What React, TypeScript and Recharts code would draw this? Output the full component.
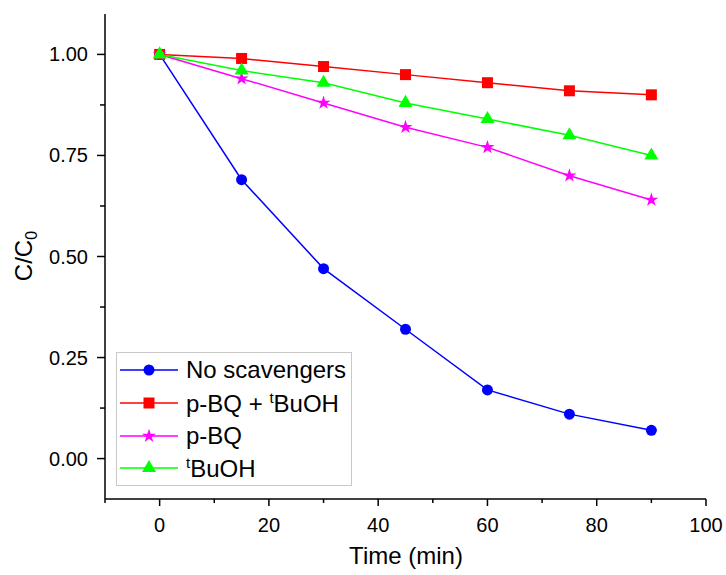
import { LineChart, Line, XAxis, YAxis, Legend, Label, Symbols } from "recharts";

const times = [0, 15, 30, 45, 60, 75, 90];
const noScavengers = [1.0, 0.69, 0.47, 0.32, 0.17, 0.11, 0.07];
const pbqTbuoh = [1.0, 0.99, 0.97, 0.95, 0.93, 0.91, 0.9];
const pbq = [1.0, 0.94, 0.88, 0.82, 0.77, 0.7, 0.64];
const tbuoh = [1.0, 0.96, 0.93, 0.88, 0.84, 0.8, 0.75];

const xTicks = [-10, 0, 10, 20, 30, 40, 50, 60, 70, 80, 90, 100];
const yTicks = [0, 0.125, 0.25, 0.375, 0.5, 0.625, 0.75, 0.875, 1.0];

const font = '"Liberation Sans", Arial, sans-serif';

const data = times.map((t, i) => ({
  time: t,
  none: noScavengers[i],
  both: pbqTbuoh[i],
  pbq: pbq[i],
  tbuoh: tbuoh[i],
}));

const series = [
  { key: "none", color: "#0000ff", shape: "circle", size: 11, name: "No scavengers" },
  { key: "both", color: "#ff0000", shape: "square", size: 11, name: "p-BQ + tBuOH" },
  { key: "pbq", color: "#ff00ff", shape: "star", size: 14, name: "p-BQ" },
  { key: "tbuoh", color: "#00ff00", shape: "triangle", size: 14, name: "tBuOH" },
];

const XTick = (props: any) => {
  const { x, y, payload } = props;
  const major = payload.value % 20 === 0;
  return (
    <g>
      <line x1={x} x2={x} y1={y} y2={y + (major ? 7 : 4)} stroke="#000" strokeWidth={1.5} />
      {major && (
        <text x={x} y={y + 33} textAnchor="middle" fontSize={20} fontFamily={font} fill="#000">
          {payload.value}
        </text>
      )}
    </g>
  );
};

const YTick = (props: any) => {
  const { x, y, payload } = props;
  const v = payload.value;
  const major = Math.abs(v * 4 - Math.round(v * 4)) < 1e-6;
  return (
    <g>
      <line x1={x} x2={x - (major ? 8 : 5)} y1={y} y2={y} stroke="#000" strokeWidth={1.5} />
      {major && (
        <text x={x - 17} y={y + 7} textAnchor="end" fontSize={20} fontFamily={font} fill="#000">
          {v.toFixed(2)}
        </text>
      )}
    </g>
  );
};

// superscript "t" in front of BuOH
const legendText = (name: string) => {
  const i = name.indexOf("tBuOH");
  if (i < 0) return name;
  return (
    <>
      {name.slice(0, i)}
      <sup style={{ fontSize: 15, verticalAlign: 9 }}>t</sup>
      BuOH
    </>
  );
};

const LegendBox = () => (
  <div
    style={{
      border: "1px solid #c8c8c8",
      background: "#fff",
      width: 236,
      height: 134,
      boxSizing: "border-box",
      paddingTop: 1,
      fontFamily: font,
      fontSize: 24,
      color: "#000",
    }}
  >
    {series.map((s) => (
      <div key={s.key} style={{ display: "flex", alignItems: "center", height: 32.7 }}>
        <svg width={66} height={22} style={{ marginLeft: 3 }}>
          <line x1={0} x2={58} y1={11} y2={11} stroke={s.color} strokeWidth={1.5} />
          <Symbols cx={29} cy={11} type={s.shape as any} size={s.size} sizeType="diameter" fill={s.color} />
        </svg>
        <span style={{ lineHeight: 1 }}>{legendText(s.name)}</span>
      </div>
    ))}
  </div>
);

export default function App() {
  return (
    <div style={{ position: "absolute", left: 0, top: 0 }}>
      <LineChart
        width={726}
        height={575}
        data={data}
        margin={{ top: 14, right: 20, bottom: 0, left: 0 }}
      >
        <XAxis
          type="number"
          dataKey="time"
          domain={[-10, 100]}
          ticks={xTicks}
          interval={0}
          allowDataOverflow
          height={76}
          tickSize={0}
          tickMargin={0}
          tickLine={false}
          axisLine={{ stroke: "#000", strokeWidth: 1.5 }}
          tick={<XTick />}
        >
          <Label
            content={() => (
              <text x={406} y={564} textAnchor="middle" fontSize={24} fontFamily={font} fill="#000">
                Time (min)
              </text>
            )}
          />
        </XAxis>
        <YAxis
          type="number"
          domain={[-0.1, 1.1]}
          ticks={yTicks}
          interval={0}
          allowDataOverflow
          width={105}
          tickSize={0}
          tickMargin={0}
          tickLine={false}
          axisLine={{ stroke: "#000", strokeWidth: 1.5 }}
          tick={<YTick />}
        >
          <Label
            content={() => (
              <text
                x={32}
                y={256}
                transform="rotate(-90, 32, 256)"
                textAnchor="middle"
                fontSize={24}
                fontFamily={font}
                fill="#000"
              >
                C/C
                <tspan dy={5} fontSize={16}>
                  0
                </tspan>
              </text>
            )}
          />
        </YAxis>
        <Legend
          layout="horizontal"
          verticalAlign="middle"
          align="center"
          wrapperStyle={{ left: 116, top: 352, width: 236 }}
          content={<LegendBox />}
        />
        {series.map((s) => (
          <Line
            key={s.key}
            type="linear"
            dataKey={s.key}
            name={s.name}
            stroke={s.color}
            strokeWidth={1.5}
            isAnimationActive={false}
            dot={(p: any) => (
              <Symbols
                key={`${s.key}-${p.index}`}
                cx={p.cx}
                cy={p.cy}
                type={s.shape as any}
                size={s.size}
                sizeType="diameter"
                fill={s.color}
              />
            )}
            activeDot={false}
          />
        ))}
      </LineChart>
    </div>
  );
}
